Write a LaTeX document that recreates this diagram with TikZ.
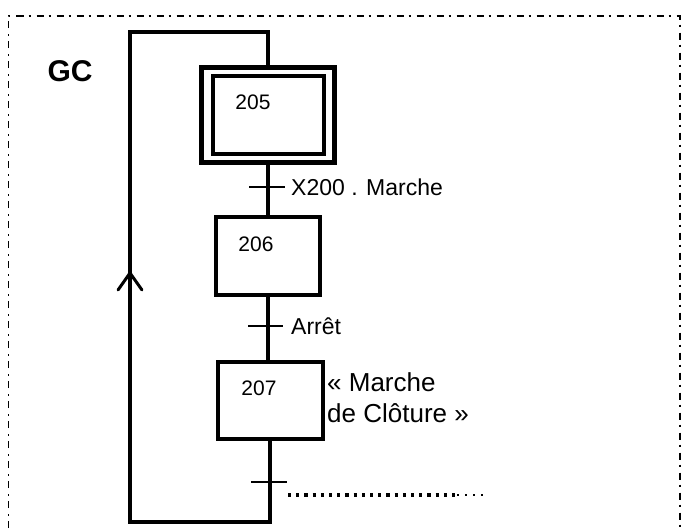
\documentclass[tikz,border=0pt]{standalone}
\usepackage{fontspec}
\setmainfont{Liberation Sans}
\usetikzlibrary{arrows.meta}
\begin{document}
\begin{tikzpicture}[x=1pt,y=-1pt,
  stepbox/.style={draw,line width=4pt,inner sep=0pt,line join=miter},
  link/.style={line width=3.5pt},
  tick/.style={line width=2pt},
  numtxt/.style={inner sep=0pt,font=\fontsize{21}{25}\selectfont},
  lbl/.style={inner sep=0pt,anchor=base west,font=\fontsize{23}{28}\selectfont},
  lblbig/.style={inner sep=0pt,anchor=base west,font=\fontsize{26}{31}\selectfont},
  frame/.style={line width=1.6pt,dash pattern=on 7pt off 5pt on 2pt off 6pt}]
\useasboundingbox (0,0) rectangle (686,528);
% frame
\coordinate (f1) at (8.5,528);
\coordinate (f2) at (8.5,16);
\coordinate (f3) at (680,16);
\coordinate (f4) at (680,528);
\draw[frame] (f1) -- (f2) -- (f3) -- (f4);
% GC
\node[inner sep=0pt,font=\fontsize{30}{34}\selectfont\bfseries] (gc) at (70,71) {GC};
% steps
\node[stepbox,line width=5pt,minimum width=133pt,minimum height=95pt] (s205) at (268,114.5) {};
\node[stepbox,minimum width=111pt,minimum height=78pt] (s205i) at (268,115) {};
\node[stepbox,minimum width=104pt,minimum height=78pt] (s206) at (268,256) {};
\node[stepbox,minimum width=105pt,minimum height=77pt] (s207) at (270,400.5) {};
\node[numtxt] (n205) at (253,102) {205};
\node[numtxt] (n206) at (256,244) {206};
\node[numtxt] (n207) at (259,388) {207};
% links
\draw[link] (s205.south) -- (s206.north);
\draw[link] (s206.south) -- (s206.south |- s207.north);
% transitions
\coordinate (t1a) at (249,187);
\coordinate (t1b) at (285,187);
\draw[tick] (t1a) -- (t1b);
\node[lbl] (l1) at (291,195) {X200 . Marche};
\coordinate (t2a) at (248,326);
\coordinate (t2b) at (283,326);
\draw[tick] (t2a) -- (t2b);
\node[lbl] (l2) at (291,334) {Arrêt};
\node[lblbig] (l3a) at (327,391) {« Marche};
\node[lblbig] (l3b) at (327,422) {de Clôture »};
\coordinate (t3a) at (251,482);
\coordinate (t3b) at (287,482);
\draw[tick] (t3a) -- (t3b);
\coordinate (d1) at (288,495);
\coordinate (d2) at (455,495);
\coordinate (d3) at (457,495);
\coordinate (d4) at (484,495);
\draw[line width=3.2pt,dash pattern=on 3.2pt off 5pt] (d1) -- (d2);
\draw[line width=2.2pt,dash pattern=on 2.2pt off 5.8pt] (d3) -- (d4);
% loop back
\coordinate (b1) at (270,522);
\coordinate (b2) at (130,522);
\coordinate (am) at (130,273);
\coordinate (tp1) at (130,32);
\coordinate (tp2) at (268,32);
\draw[link,line join=miter] (s207.south) -- (b1) -- (b2) -- (tp1) -- (tp2) -- (s205.north);
\coordinate (arL) at (118,290);
\coordinate (arR) at (142,290);
\draw[line width=3pt,line cap=round,line join=miter] (arL) -- (am) -- (arR);
\end{tikzpicture}
\end{document}
